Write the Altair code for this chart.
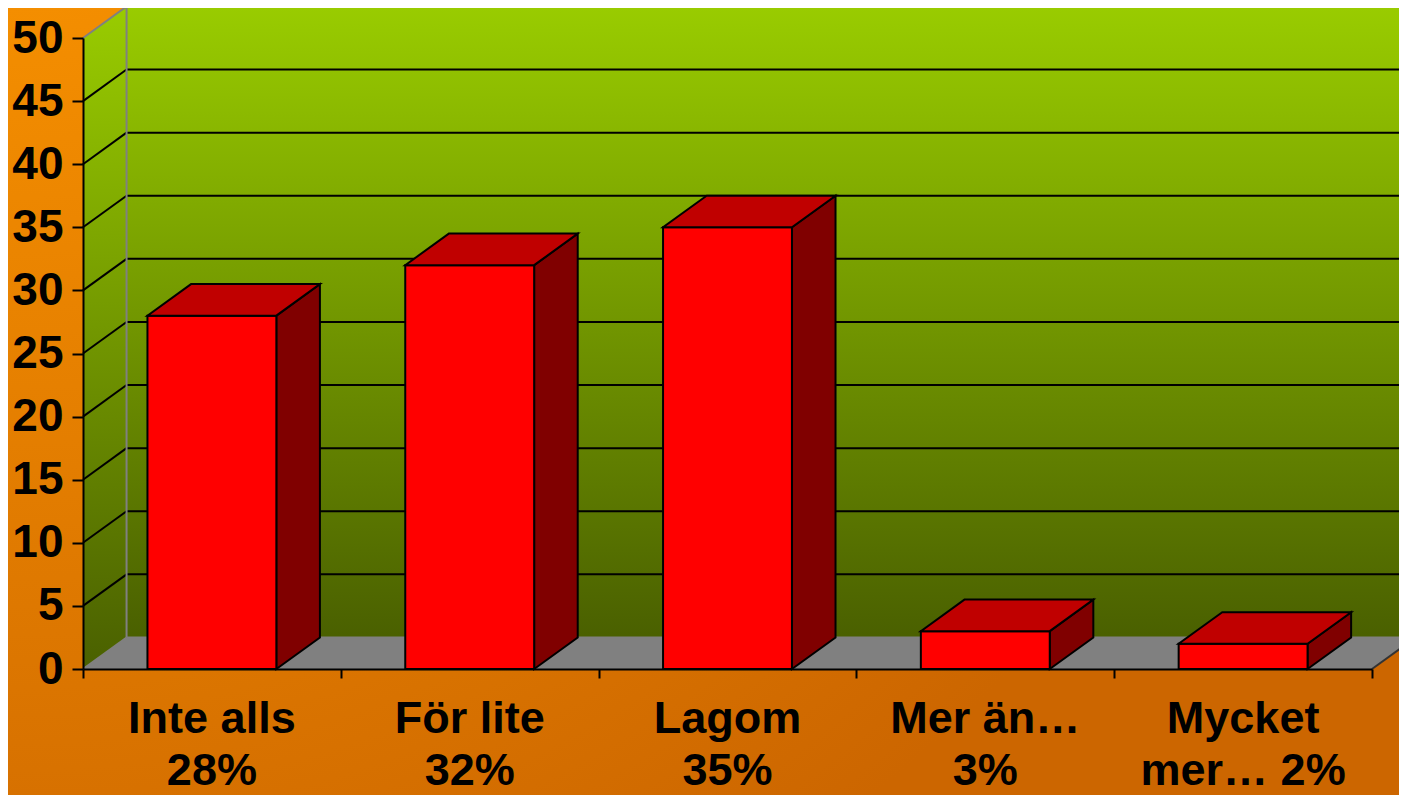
import altair as alt
import pandas as pd

# ---- data ----
categories = ["Inte alls", "För lite", "Lagom", "Mer än…", "Mycket mer…"]
label_lines = ["Inte alls\n28%", "För lite\n32%", "Lagom\n35%", "Mer än…\n3%", "Mycket\nmer… 2%"]
values = [28, 32, 35, 3, 2]
y_ticks = [0, 5, 10, 15, 20, 25, 30, 35, 40, 45, 50]

# ---- 3-D geometry / layout (style constants) ----
N = len(categories)
Y_MAX = y_ticks[-1]
DEPTH_X = 0.169   # depth offset in category units
DEPTH_Y = 2.5     # depth offset in value units
BAR_LO, BAR_HI = 0.25, 0.75

W, H = 1289, 631
PAD = {"left": 75, "top": 30, "right": 27, "bottom": 126}
FONT = "Liberation Sans"

# ---- tables built from the arrays ----
front = pd.DataFrame({
    "cat": categories,
    "x": [i + BAR_LO for i in range(N)],
    "x2": [i + BAR_HI for i in range(N)],
    "y": [0] * N,
    "y2": values,
})

top_rows, side_rows = [], []
for i, (c, v) in enumerate(zip(categories, values)):
    top_rows.append({"cat": c, "y": v, "x": i + BAR_LO, "x2": i + BAR_HI})
    top_rows.append({"cat": c, "y": v + DEPTH_Y, "x": i + BAR_LO + DEPTH_X, "x2": i + BAR_HI + DEPTH_X})
    side_rows.append({"cat": c, "x": i + BAR_HI, "y": 0, "y2": v})
    side_rows.append({"cat": c, "x": i + BAR_HI + DEPTH_X, "y": DEPTH_Y, "y2": v + DEPTH_Y})
top = pd.DataFrame(top_rows)
side = pd.DataFrame(side_rows)

back_wall = pd.DataFrame({"x": [DEPTH_X], "x2": [N + DEPTH_X], "y": [DEPTH_Y], "y2": [Y_MAX + DEPTH_Y]})
left_wall = pd.DataFrame({"x": [0, DEPTH_X], "y": [0, DEPTH_Y], "y2": [Y_MAX, Y_MAX + DEPTH_Y]})
floor = pd.DataFrame({"y": [0, DEPTH_Y], "x": [0, DEPTH_X], "x2": [N, N + DEPTH_X]})

grid_rows = []
for t in y_ticks[1:-1]:
    grid_rows.append({"x": 0, "y": t, "x2": DEPTH_X, "y2": t + DEPTH_Y})
    grid_rows.append({"x": DEPTH_X, "y": t + DEPTH_Y, "x2": N + DEPTH_X, "y2": t + DEPTH_Y})
grid = pd.DataFrame(grid_rows)

border = pd.DataFrame([
    {"x": 0, "y": Y_MAX, "x2": DEPTH_X, "y2": Y_MAX + DEPTH_Y},
    {"x": DEPTH_X, "y": Y_MAX + DEPTH_Y, "x2": N + DEPTH_X, "y2": Y_MAX + DEPTH_Y},
    {"x": DEPTH_X, "y": DEPTH_Y, "x2": DEPTH_X, "y2": Y_MAX + DEPTH_Y},
    {"x": DEPTH_X, "y": DEPTH_Y, "x2": N + DEPTH_X, "y2": DEPTH_Y},
    {"x": 0, "y": 0, "x2": DEPTH_X, "y2": DEPTH_Y},
])
floor_edge = pd.DataFrame([{"x": N, "y": 0, "x2": N + DEPTH_X, "y2": DEPTH_Y}])

labels = pd.DataFrame({"xc": [i + 0.5 for i in range(N)], "label": label_lines})

# ---- scales / axes ----
xscale = alt.Scale(domain=[0, N], nice=False, zero=False)
yscale = alt.Scale(domain=[0, Y_MAX], nice=False)
xaxis = alt.Axis(values=list(range(N + 1)), labels=False, tickSize=9, tickWidth=2,
                 tickColor="black", domainColor="black", domainWidth=2, grid=False,
                 zindex=1, title=None)
yaxis = alt.Axis(values=y_ticks, labelFont=FONT, labelFontSize=46, labelFontWeight="bold",
                 labelColor="black", labelPadding=9, tickSize=11, tickWidth=2,
                 tickColor="black", domainColor="black", domainWidth=2, grid=False,
                 zindex=1, title=None)


def X(f):
    return alt.X(f"{f}:Q", scale=xscale, axis=xaxis, title=None)


def Y(f):
    return alt.Y(f"{f}:Q", scale=yscale, axis=yaxis, title=None)


wall_grad = alt.LinearGradient(
    gradient="linear",
    stops=[alt.GradientStop(color="#99CC00", offset=0),
           alt.GradientStop(color="#4A6000", offset=1)],
    x1=0, x2=0, y1=0, y2=1,
)
bg_grad = alt.RadialGradient(
    gradient="radial",
    stops=[alt.GradientStop(color="#FF9900", offset=0),
           alt.GradientStop(color="#CC6600", offset=1)],
    x1=0, y1=0, r1=0, x2=0, y2=0, r2=1,
)

background = alt.Chart(pd.DataFrame({"k": [0]})).mark_rect(fill=bg_grad).encode(
    x=alt.value(-PAD["left"]), x2=alt.value(W + PAD["right"]),
    y=alt.value(-PAD["top"]), y2=alt.value(H + PAD["bottom"]),
)

back = alt.Chart(back_wall).mark_rect(fill=wall_grad).encode(
    x=X("x"), x2="x2", y=Y("y"), y2="y2")

left = alt.Chart(left_wall).mark_area(fill=wall_grad).encode(
    x=X("x"), y=Y("y"), y2="y2")

flo = alt.Chart(floor).mark_area(orient="horizontal", fill="#808080").encode(
    y=Y("y"), x=X("x"), x2="x2")

grid_l = alt.Chart(grid).mark_rule(color="black", strokeWidth=2).encode(
    x=X("x"), y=Y("y"), x2="x2", y2="y2")

border_l = alt.Chart(border).mark_rule(color="#808080", strokeWidth=2).encode(
    x=X("x"), y=Y("y"), x2="x2", y2="y2")

floor_edge_l = alt.Chart(floor_edge).mark_rule(color="#333333", strokeWidth=2).encode(
    x=X("x"), y=Y("y"), x2="x2", y2="y2")

side_l = alt.Chart(side).mark_area(fill="#800000", stroke="black", strokeWidth=2,
                                   strokeJoin="miter").encode(
    x=X("x"), y=Y("y"), y2="y2", detail="cat:N")

front_l = alt.Chart(front).mark_rect(fill="#FF0000", stroke="black", strokeWidth=2).encode(
    x=X("x"), x2="x2", y=Y("y"), y2="y2")

top_l = alt.Chart(top).mark_area(orient="horizontal", fill="#C00000", stroke="black",
                                 strokeWidth=2, strokeJoin="miter").encode(
    y=Y("y"), x=X("x"), x2="x2", detail="cat:N")

text_l = alt.Chart(labels).mark_text(
    font=FONT, fontSize=45, fontWeight="bold", color="black", lineBreak="\n",
    lineHeight=52, baseline="top", align="center",
).encode(x=X("xc"), y=alt.value(H + 28), text="label:N")

chart = alt.layer(
    background, back, left, flo, grid_l, border_l, floor_edge_l,
    side_l, front_l, top_l, text_l,
).properties(
    width=W, height=H, padding=PAD,
    autosize=alt.AutoSizeParams(type="none"),
    background="#D27000",
).configure_view(strokeWidth=0)

chart.save("out.html", embed_options={"renderer": "svg", "actions": False})
